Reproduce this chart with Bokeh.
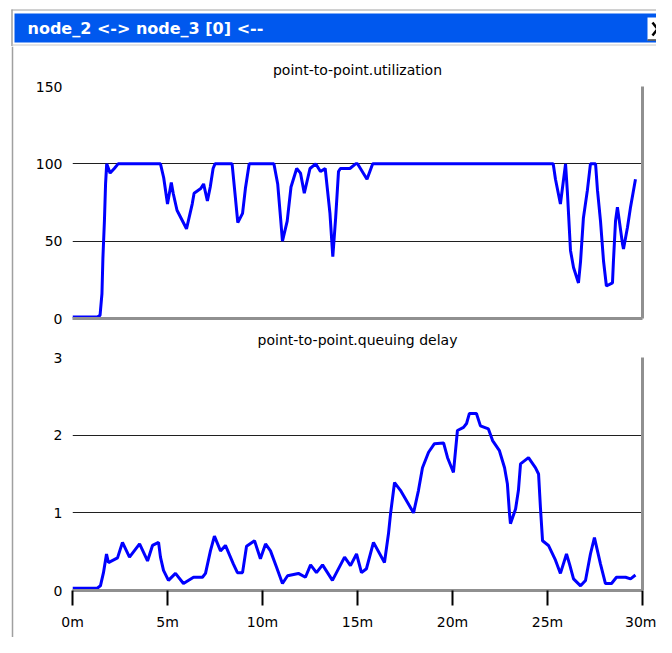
from bokeh.plotting import figure
from bokeh.layouts import column, row
from bokeh.models import Range1d, FixedTicker, LinearAxis, PrintfTickFormatter, Grid, Title
from bokeh.core.properties import value
from bokeh.embed import file_html
from bokeh.resources import INLINE

# ---------------- data ----------------
window_title = "node_2 <-> node_3 [0] <--"
util_title = "point-to-point.utilization"
delay_title = "point-to-point.queuing delay"
util_ticks = [0, 50, 100, 150]
util_grid = [50, 100]
delay_ticks = [0, 1, 2, 3]
delay_grid = [1, 2]
time_ticks = [0, 5, 10, 15, 20, 25, 30]

util_t = [0, 1.3, 1.45, 1.55, 1.6, 1.68, 1.74, 1.8, 1.98, 2.2, 2.4, 4.63, 4.8, 5.0, 5.2, 5.3,
          5.5, 6.0, 6.3, 6.4, 6.75, 6.9, 7.1, 7.25, 7.4, 7.5, 8.4, 8.55, 8.7, 8.95, 9.1, 9.3,
          10.6, 10.8, 10.95, 11.05, 11.3, 11.5, 11.8, 12.0, 12.2, 12.5, 12.8, 13.05, 13.3,
          13.55, 13.7, 13.85, 14.0, 14.1, 14.6, 14.9, 15.0, 15.5, 15.8, 25.3, 25.42, 25.68,
          25.95, 26.05, 26.21, 26.37, 26.63, 26.74, 26.89, 27.1, 27.26, 27.53, 27.63, 27.79,
          27.95, 28.1, 28.42, 28.47, 28.58, 28.68, 28.95, 29.0, 29.21, 29.37, 29.63]
util_v = [1, 1, 2, 16, 39, 63, 87, 100, 94, 97, 100, 100, 91, 74, 88, 81,
          70, 58, 74, 81, 84, 87, 76, 85, 97, 100, 100, 81, 62, 68, 84, 100,
          100, 87, 65, 50, 63, 85, 97, 94, 81, 97, 100, 95, 97,
          68, 40, 65, 95, 97, 97, 100, 100, 90, 100, 100, 90, 74,
          100, 81, 44, 33, 23, 37, 65, 83, 100, 100, 83, 63,
          37, 21, 23, 37, 63, 72, 48, 45, 59, 72, 90]

delay_t = [0, 1.3, 1.47, 1.63, 1.79, 1.89, 2.37, 2.63, 3.0, 3.53, 3.95, 4.21, 4.53, 4.63, 4.79,
           5.05, 5.42, 5.84, 6.37, 6.84, 7.0, 7.26, 7.47, 7.79, 8.05, 8.47, 8.68, 8.95, 9.16,
           9.58, 9.89, 10.16, 10.42, 10.74, 11.05, 11.32, 11.89, 12.26, 12.53, 12.84, 13.16,
           13.68, 14.32, 14.63, 14.95, 15.21, 15.47, 15.84, 16.42, 16.63, 16.74, 16.95, 17.26,
           17.95, 18.21, 18.42, 18.74, 19.05, 19.53, 19.74, 20.05, 20.26, 20.58, 20.74, 20.89,
           21.26, 21.47, 21.89, 22.11, 22.47, 22.74, 22.89, 23.0, 23.05, 23.32, 23.47, 23.58,
           24.0, 24.37, 24.53, 24.63, 24.74, 25.05, 25.42, 25.68, 26.0, 26.16, 26.37, 26.74,
           27.0, 27.26, 27.47, 27.79, 28.05, 28.37, 28.63, 29.11, 29.37, 29.63]
delay_v = [0.03, 0.03, 0.06, 0.23, 0.47, 0.36, 0.42, 0.62, 0.43, 0.6, 0.38, 0.58, 0.62, 0.43, 0.26,
           0.13, 0.22, 0.09, 0.17, 0.17, 0.22, 0.51, 0.7, 0.51, 0.58, 0.34, 0.23, 0.23, 0.57,
           0.64, 0.41, 0.6, 0.51, 0.3, 0.09, 0.19, 0.22, 0.17, 0.33, 0.23, 0.33,
           0.13, 0.43, 0.32, 0.47, 0.23, 0.28, 0.62, 0.36, 0.73, 0.99, 1.39, 1.29,
           1.0, 1.29, 1.58, 1.78, 1.89, 1.9, 1.71, 1.52, 2.06, 2.1, 2.15, 2.28,
           2.28, 2.12, 2.08, 1.93, 1.8, 1.58, 1.37, 0.99, 0.86, 1.05, 1.29, 1.63,
           1.71, 1.58, 1.5, 1.06, 0.64, 0.58, 0.39, 0.22, 0.47, 0.34, 0.15, 0.06,
           0.13, 0.47, 0.68, 0.34, 0.09, 0.09, 0.17, 0.17, 0.15, 0.2]

# ---------------- style ----------------
FONT = "DejaVu Sans"
BLUE_BAR = "#0058ee"
LINE_BLUE = "#0000ff"
FRAME_GRAY = "#a0a0a0"
BORDER_GRAY = "#909090"
W, H = 656, 637
HDR_H = 46

# ---------------- header (window title bar) ----------------
hdr = figure(width=W, height=HDR_H, x_range=Range1d(0, W), y_range=Range1d(HDR_H, 0),
             x_axis_type=None, y_axis_type=None, output_backend="svg",
             toolbar_location=None, min_border=0)
hdr.grid.visible = False
hdr.outline_line_color = None
hdr.segment(x0=[11], y0=[9.5], x1=[W], y1=[9.5], line_color=FRAME_GRAY, line_width=1)
hdr.segment(x0=[11.5], y0=[9], x1=[11.5], y1=[HDR_H], line_color=FRAME_GRAY, line_width=1.5)
hdr.quad(left=[14], right=[W], top=[13], bottom=[42], fill_color=BLUE_BAR, line_color=None)
hdr.segment(x0=[12], y0=[44.5], x1=[W], y1=[44.5], line_color="#c8c8c8", line_width=1)
hdr.text(x=[27], y=[28], text=[window_title], text_color="white",
         text_font=value(FONT), text_font_style="bold", text_font_size="16px",
         text_baseline="middle", text_align="left")
# close button
hdr.quad(left=[647], right=[669], top=[17], bottom=[40], fill_color="white",
         line_color=None)
hdr.segment(x0=[647, 668.5], y0=[39.5, 17], x1=[669, 668.5], y1=[39.5, 40],
            line_color="#404040", line_width=1.5)
hdr.segment(x0=[652, 662], y0=[22, 22], x1=[662, 652], y1=[35, 35],
            line_color="black", line_width=2.5)

# ---------------- left frame strip ----------------
STRIP_W = 14
strip = figure(width=STRIP_W, height=H - HDR_H, x_range=Range1d(0, STRIP_W),
               y_range=Range1d(H, HDR_H), x_axis_type=None, y_axis_type=None,
               output_backend="svg", toolbar_location=None, min_border=0)
strip.grid.visible = False
strip.outline_line_color = None
strip.segment(x0=[12], y0=[HDR_H], x1=[12], y1=[H], line_color=FRAME_GRAY, line_width=1.5)


def make_panel(height, top, bottom, yr, ticks, grid_ticks):
    p = figure(width=W - STRIP_W, height=height, x_range=Range1d(0, 30),
               y_range=Range1d(*yr), x_axis_type=None, y_axis_type=None,
               output_backend="svg", toolbar_location=None,
               min_border_left=58, min_border_right=14,
               min_border_top=top, min_border_bottom=bottom)
    p.outline_line_color = None
    yax = LinearAxis(ticker=FixedTicker(ticks=ticks), axis_line_color=None,
                     major_tick_line_color=None, minor_tick_line_color=None,
                     major_tick_out=0, major_tick_in=0, major_label_standoff=10,
                     major_label_text_font=FONT, major_label_text_font_size="14px",
                     major_label_text_color="black")
    p.add_layout(yax, "left")
    rax = LinearAxis(ticker=FixedTicker(ticks=[]), axis_line_color=BORDER_GRAY,
                     axis_line_width=3, major_tick_line_color=None,
                     minor_tick_line_color=None, major_tick_out=0, major_tick_in=0,
                     major_label_standoff=0)
    p.add_layout(rax, "right")
    p.add_layout(Grid(dimension=1, ticker=FixedTicker(ticks=grid_ticks),
                      grid_line_color="#202020", grid_line_width=1))
    return p


# panel 1: canvas y 46..350, frame 86..318; its bottom border axis carries the
# second chart's heading as its label
p1 = make_panel(304, 40, 32, (0, 150), util_ticks, util_grid)
t1 = Title(text=util_title, text_font=FONT, text_font_size="14px",
           text_font_style="normal", text_color="black", align="center", standoff=17)
p1.add_layout(t1, "above")
bax1 = LinearAxis(ticker=FixedTicker(ticks=[]), axis_line_color=BORDER_GRAY,
                  axis_line_width=3, major_tick_line_color=None,
                  minor_tick_line_color=None, major_tick_out=0, major_tick_in=0,
                  major_label_standoff=0, axis_label=delay_title,
                  axis_label_standoff=13, axis_label_text_font=FONT,
                  axis_label_text_font_size="14px", axis_label_text_font_style="normal",
                  axis_label_text_color="black")
p1.add_layout(bax1, "below")
p1.line(util_t, util_v, line_color=LINE_BLUE, line_width=3)

# panel 2: canvas y 350..637, frame 357..590
p2 = make_panel(287, 7, 47, (0, 3), delay_ticks, delay_grid)
bax2 = LinearAxis(ticker=FixedTicker(ticks=time_ticks),
                  formatter=PrintfTickFormatter(format="%dm"),
                  axis_line_color=BORDER_GRAY, axis_line_width=3,
                  major_tick_line_color="black", major_tick_line_width=2,
                  minor_tick_line_color=None, major_tick_out=15, major_tick_in=0,
                  major_label_standoff=8, major_label_text_font=FONT,
                  major_label_text_font_size="14px", major_label_text_color="black")
p2.add_layout(bax2, "below")
p2.line(delay_t, delay_v, line_color=LINE_BLUE, line_width=3)

layout = column(hdr, row(strip, column(p1, p2)))

open("out.html", "w").write(file_html(layout, INLINE))
